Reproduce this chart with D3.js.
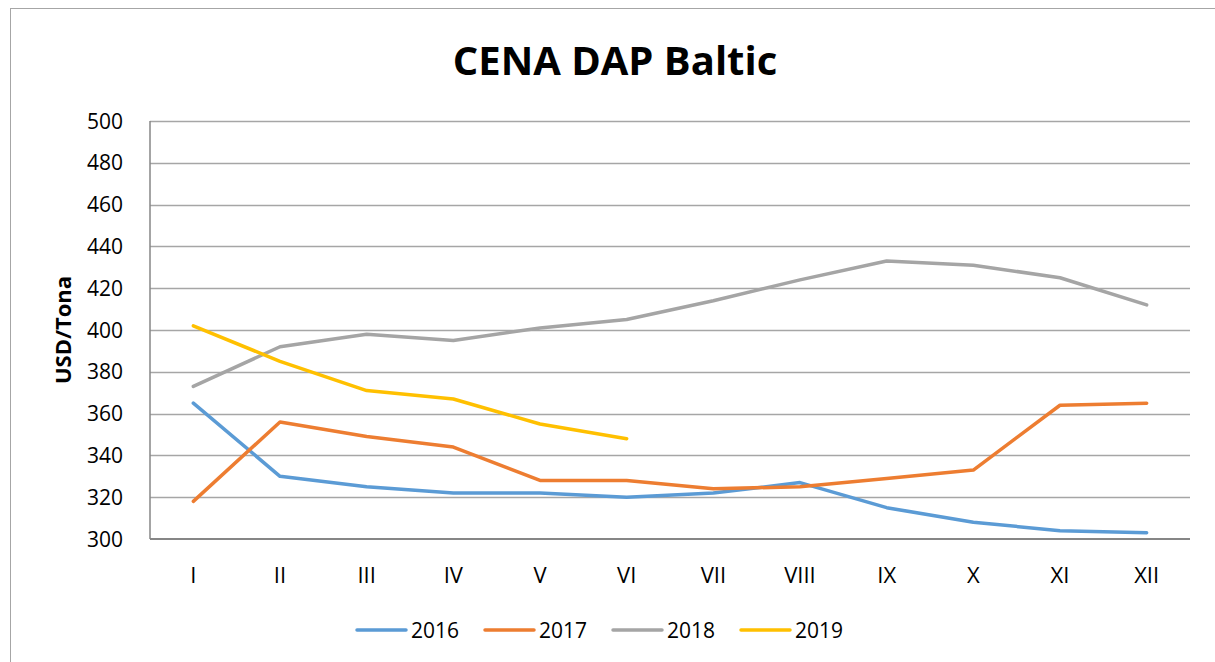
<!DOCTYPE html>
<html>
<head>
<meta charset="utf-8">
<script src="https://cdn.jsdelivr.net/npm/d3@7"></script>
<style>
  body { margin: 0; background: #fff; }
  text { font-family: "Open Sans", "Noto Sans", sans-serif; fill: #000; }
</style>
</head>
<body>
<svg id="chart" width="1215" height="662"></svg>
<script>
// months on the x axis
var months = ["I", "II", "III", "IV", "V", "VI", "VII", "VIII", "IX", "X", "XI", "XII"];
var years = ["2016", "2017", "2018", "2019"];
var colors = ["#5B9BD5", "#ED7D31", "#A5A5A5", "#FFC000"];

// USD per tonne
var v2016 = [365, 330, 325, 322, 322, 320, 322, 327, 315, 308, 304, 303];
var v2017 = [318, 356, 349, 344, 328, 328, 324, 325, 329, 333, 364, 365];
var v2018 = [373, 392, 398, 395, 401, 405, 414, 424, 433, 431, 425, 412];
var v2019 = [402, 385, 371, 367, 355, 348];

var yTicks = [300, 320, 340, 360, 380, 400, 420, 440, 460, 480, 500];

var series = [v2016, v2017, v2018, v2019];

var svg = d3.select("#chart");

// outer chart frame
svg.append("rect")
    .attr("x", 10.5).attr("y", 8.5)
    .attr("width", 1215).attr("height", 700)
    .attr("fill", "none").attr("stroke", "#A6A6A6").attr("stroke-width", 1);

var plotL = 150, plotR = 1190, plotT = 121, plotB = 539;

var x = d3.scaleBand().domain(months).range([plotL, plotR]);
var y = d3.scaleLinear().domain([300, 500]).range([plotB, plotT]);

// gridlines
svg.append("g")
  .selectAll("line")
  .data(yTicks.slice(1))
  .enter().append("line")
    .attr("x1", plotL).attr("x2", plotR)
    .attr("y1", d => Math.round(y(d)) + 0.5)
    .attr("y2", d => Math.round(y(d)) + 0.5)
    .attr("stroke", "#A6A6A6").attr("stroke-width", 1.3);

// axes lines
svg.append("line")
    .attr("x1", plotL).attr("x2", plotL)
    .attr("y1", plotT).attr("y2", plotB)
    .attr("stroke", "#868686").attr("stroke-width", 1.5);
svg.append("line")
    .attr("x1", plotL).attr("x2", plotR)
    .attr("y1", plotB).attr("y2", plotB)
    .attr("stroke", "#868686").attr("stroke-width", 1.8);

// y tick labels
svg.append("g")
  .selectAll("text")
  .data(yTicks)
  .enter().append("text")
    .attr("x", 123)
    .attr("y", d => y(d))
    .attr("dy", "0.36em")
    .attr("text-anchor", "end")
    .style("font-size", "21px")
    .text(d => d);

// x tick labels
svg.append("g")
  .selectAll("text")
  .data(months)
  .enter().append("text")
    .attr("x", d => x(d) + x.bandwidth() / 2)
    .attr("y", 583)
    .attr("text-anchor", "middle")
    .style("font-size", "22px")
    .text(d => d);

// lines
var line = d3.line()
    .x((d, i) => x(months[i]) + x.bandwidth() / 2)
    .y(d => y(d));

series.forEach(function (s, k) {
  svg.append("path")
      .datum(s)
      .attr("d", line)
      .attr("fill", "none")
      .attr("stroke", colors[k])
      .attr("stroke-width", 3.5)
      .attr("stroke-linejoin", "round")
      .attr("stroke-linecap", "round");
});

// title
svg.append("text")
    .attr("x", 615).attr("y", 75)
    .attr("text-anchor", "middle")
    .style("font-size", "40px").style("font-weight", "bold")
    .text("CENA DAP Baltic");

// y axis title
svg.append("text")
    .attr("transform", "translate(71,330) rotate(-90)")
    .attr("text-anchor", "middle")
    .style("font-size", "22px").style("font-weight", "bold")
    .text("USD/Tona");

// legend
var legend = svg.append("g")
  .selectAll("g")
  .data(years)
  .enter().append("g")
    .attr("transform", (d, i) => "translate(" + (357 + i * 128) + ",630)");
legend.append("line")
    .attr("x1", 0).attr("x2", 49)
    .attr("stroke", (d, i) => colors[i])
    .attr("stroke-width", 3.5)
    .attr("stroke-linecap", "round");
legend.append("text")
    .attr("x", 54).attr("dy", "0.36em")
    .style("font-size", "21px")
    .text(d => d);
</script>
</body>
</html>
